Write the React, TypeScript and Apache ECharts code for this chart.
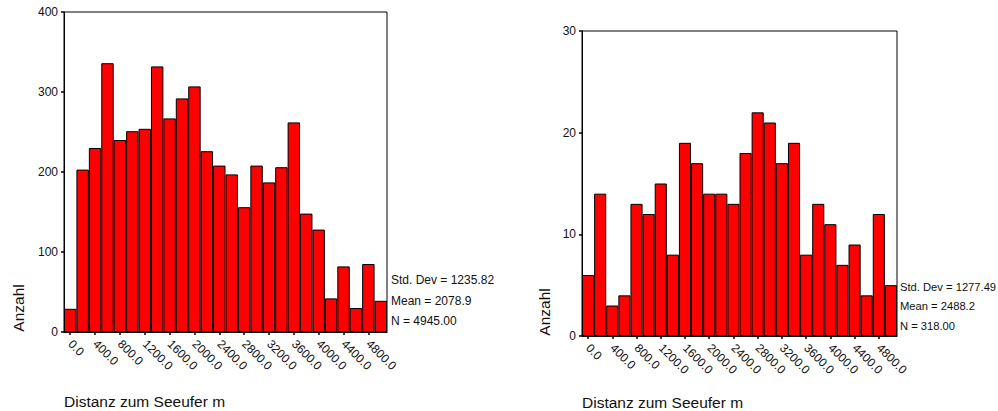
import React, { useEffect, useRef } from "react";
import * as echarts from "echarts";

// Bin centres of the distance histogram (metres)
const binLabels = [
  "0.0", "200.0", "400.0", "600.0", "800.0", "1000.0", "1200.0", "1400.0", "1600.0",
  "1800.0", "2000.0", "2200.0", "2400.0", "2600.0", "2800.0", "3000.0", "3200.0",
  "3400.0", "3600.0", "3800.0", "4000.0", "4200.0", "4400.0", "4600.0", "4800.0", "5000.0",
];

// Counts per bin, all points
const countsAll = [
  29, 203, 230, 336, 240, 251, 254, 332, 267, 292, 307, 226, 208,
  197, 156, 208, 187, 206, 262, 148, 128, 42, 82, 30, 85, 39,
];

// Counts per bin, sample
const countsSample = [
  6, 14, 3, 4, 13, 12, 15, 8, 19, 17, 14, 14, 13,
  18, 22, 21, 17, 19, 8, 13, 11, 7, 9, 4, 12, 5,
];

const statsAll = ["Std. Dev = 1235.82", "Mean = 2078.9", "N = 4945.00"];
const statsSample = ["Std. Dev = 1277.49", "Mean = 2488.2", "N = 318.00"];

const yMaxAll = 400;
const yStepAll = 100;
const yMaxSample = 30;
const yStepSample = 10;

const xTitle = "Distanz zum Seeufer m";
const yTitle = "Anzahl";

const FONT = "'Liberation Sans', Arial, sans-serif";
const INK = "#111";

function xAxisFor(gridIndex: number) {
  return {
    type: "category" as const,
    gridIndex,
    data: binLabels,
    boundaryGap: true,
    axisLine: { show: true, lineStyle: { color: "#000", width: 1 } },
    axisTick: { show: true, interval: 1, alignWithLabel: true, length: 3, lineStyle: { color: "#000", width: 1.5 } },
    axisLabel: {
      interval: 1,
      rotate: -45,
      margin: 10,
      color: INK,
      fontFamily: FONT,
      fontSize: 12,
    },
    splitLine: { show: false },
  };
}

function yAxisFor(gridIndex: number, max: number, step: number) {
  return {
    type: "value" as const,
    gridIndex,
    min: 0,
    max,
    interval: step,
    axisLine: { show: true, lineStyle: { color: "#000", width: 1 } },
    axisTick: { show: true, length: 3, lineStyle: { color: "#000", width: 1.5 } },
    axisLabel: { color: INK, fontFamily: FONT, fontSize: 12, margin: 6 },
    splitLine: { show: false },
  };
}

function barSeries(index: number, data: number[]) {
  return {
    type: "bar" as const,
    xAxisIndex: index,
    yAxisIndex: index,
    data,
    barWidth: "100%",
    barCategoryGap: 0,
    itemStyle: { color: "#ff0000", borderColor: "#000", borderWidth: 1 },
    silent: true,
  };
}

function statTexts(lines: string[], x: number, ys: number[], size: number) {
  return lines.map((t, i) => ({
    type: "text" as const,
    x,
    y: ys[i],
    style: { text: t, fill: INK, font: `${size}px ${FONT}`, textAlign: "left", textVerticalAlign: "middle" },
  }));
}

export default function App() {
  const ref = useRef<HTMLDivElement>(null);

  useEffect(() => {
    if (!ref.current) return;
    const chart = echarts.init(ref.current, undefined, { renderer: "svg" });
    chart.setOption({
      animation: false,
      backgroundColor: "#fff",
      grid: [
        { left: 64, top: 12, width: 323, height: 320, show: true, borderColor: "#000", borderWidth: 1, backgroundColor: "transparent" },
        { left: 582, top: 31, width: 315, height: 305, show: true, borderColor: "#000", borderWidth: 1, backgroundColor: "transparent" },
      ],
      xAxis: [xAxisFor(0), xAxisFor(1)],
      yAxis: [yAxisFor(0, yMaxAll, yStepAll), yAxisFor(1, yMaxSample, yStepSample)],
      series: [barSeries(0, countsAll), barSeries(1, countsSample)],
      graphic: [
        ...statTexts(statsAll, 391, [280, 301, 321], 12),
        ...statTexts(statsSample, 900, [287, 306, 326], 11.2),
        {
          type: "text",
          x: 18,
          y: 308,
          rotation: Math.PI / 2,
          style: { text: yTitle, fill: INK, font: `15.5px ${FONT}`, textAlign: "center", textVerticalAlign: "middle" },
        },
        {
          type: "text",
          x: 544,
          y: 312,
          rotation: Math.PI / 2,
          style: { text: yTitle, fill: INK, font: `15.5px ${FONT}`, textAlign: "center", textVerticalAlign: "middle" },
        },
        {
          type: "text",
          x: 64,
          y: 401,
          style: { text: xTitle, fill: INK, font: `15.5px ${FONT}`, textAlign: "left", textVerticalAlign: "middle" },
        },
        {
          type: "text",
          x: 582,
          y: 402,
          style: { text: xTitle, fill: INK, font: `15.5px ${FONT}`, textAlign: "left", textVerticalAlign: "middle" },
        },
      ],
    });
    return () => chart.dispose();
  }, []);

  return (
    <div
      ref={ref}
      style={{ position: "absolute", left: 0, top: 0, width: 998, height: 411, background: "#fff" }}
    />
  );
}
